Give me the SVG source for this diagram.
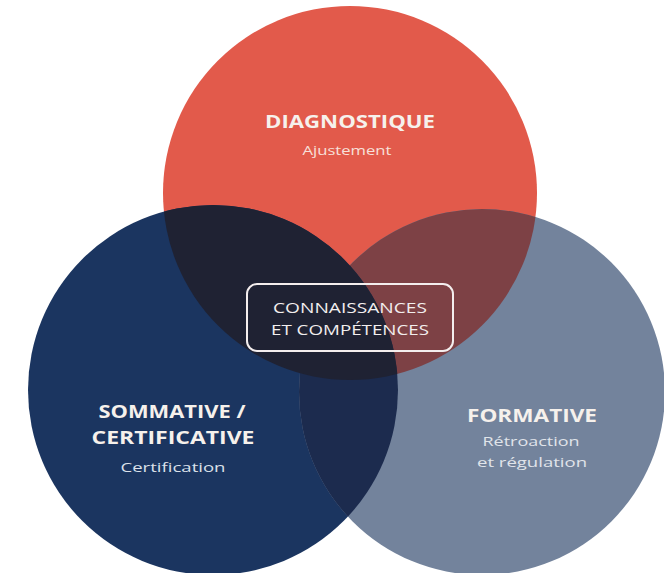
<svg xmlns="http://www.w3.org/2000/svg" width="664" height="573" viewBox="0 0 664 573">
  <defs>
    <clipPath id="clipRed"><circle cx="350" cy="193" r="187"/></clipPath>
    <clipPath id="clipNavy"><circle cx="213" cy="390" r="185"/></clipPath>
    <style>
      .head { font-family: "Open Sans", "DejaVu Sans", sans-serif; font-weight: 700; fill: #F6F1EC; text-anchor: middle; }
      .sub { font-family: "Open Sans", "DejaVu Sans", sans-serif; font-weight: 400; text-anchor: middle; }
      .core { font-family: "Open Sans", "DejaVu Sans", sans-serif; font-weight: 400; fill: #F2EEEE; text-anchor: middle; }
    </style>
  </defs>
  <rect x="0" y="0" width="664" height="573" fill="#FFFFFF"/>

  <g id="diagnostique">
    <circle cx="350" cy="193" r="187" fill="#E25A4B"/>
  </g>
  <g id="sommative">
    <circle cx="213" cy="390" r="185" fill="#1B3560"/>
  </g>
  <g id="formative">
    <circle cx="482" cy="392" r="183" fill="#73839C"/>
  </g>

  <g id="overlaps">
    <circle cx="482" cy="392" r="183" fill="#7D4145" clip-path="url(#clipRed)"/>
    <circle cx="482" cy="392" r="183" fill="#1C2B4E" clip-path="url(#clipNavy)"/>
    <circle cx="213" cy="390" r="185" fill="#1F2233" clip-path="url(#clipRed)"/>
  </g>

  <g id="connectors"/>

  <g id="diagnostique-label">
    <text class="head" x="350" y="128" font-size="18" textLength="170" lengthAdjust="spacingAndGlyphs">DIAGNOSTIQUE</text>
    <text class="sub" x="347" y="155" font-size="13" fill="#F7E0DA" textLength="89" lengthAdjust="spacingAndGlyphs">Ajustement</text>
  </g>

  <g id="sommative-label">
    <text class="head" x="172" y="418" font-size="18" textLength="147" lengthAdjust="spacingAndGlyphs">SOMMATIVE /</text>
    <text class="head" x="173" y="444" font-size="18" textLength="163" lengthAdjust="spacingAndGlyphs">CERTIFICATIVE</text>
    <text class="sub" x="173" y="472" font-size="13" fill="#DCE1EA" textLength="105" lengthAdjust="spacingAndGlyphs">Certification</text>
  </g>

  <g id="formative-label">
    <text class="head" x="532" y="422" font-size="18" textLength="130" lengthAdjust="spacingAndGlyphs">FORMATIVE</text>
    <text class="sub" x="531" y="446" font-size="13" fill="#E0E4EA" textLength="97" lengthAdjust="spacingAndGlyphs">Rétroaction</text>
    <text class="sub" x="532" y="467" font-size="13" fill="#E0E4EA" textLength="110" lengthAdjust="spacingAndGlyphs">et régulation</text>
  </g>

  <g id="connaissances">
    <rect x="247" y="284" width="206" height="67" rx="10" ry="10" fill="none" stroke="#F4EEEE" stroke-width="2"/>
    <text class="core" x="350" y="313" font-size="15" textLength="154" lengthAdjust="spacingAndGlyphs">CONNAISSANCES</text>
    <text class="core" x="350" y="335" font-size="15" textLength="158" lengthAdjust="spacingAndGlyphs">ET COMPÉTENCES</text>
  </g>
</svg>
